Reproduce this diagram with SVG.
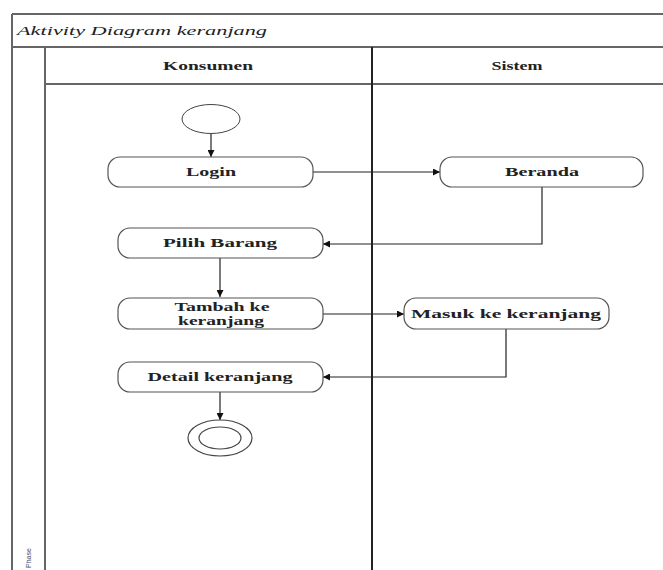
<svg xmlns="http://www.w3.org/2000/svg" width="663" height="570" viewBox="0 0 663 570">
<style>
.frame{stroke:#666;stroke-width:2;fill:none}
.lane{stroke:#222;stroke-width:2;fill:none}
.act{fill:#fff;stroke:#555;stroke-width:1.2}
.lbl{font-family:"Liberation Serif","DejaVu Serif",serif;font-weight:bold;font-size:12.5px;fill:#222;text-anchor:middle}
.hdr{font-family:"Liberation Serif","DejaVu Serif",serif;font-weight:bold;font-size:12.5px;fill:#222;text-anchor:middle}
.edge{stroke:#222;stroke-width:1.2;fill:none}
</style>
<defs>
<marker id="ah" viewBox="0 0 10 10" refX="10" refY="5" markerWidth="8" markerHeight="7" markerUnits="userSpaceOnUse" orient="auto">
<path d="M0,0 L10,5 L0,10 z" fill="#111"/>
</marker>
</defs>
<rect width="663" height="570" fill="#fff"/>
<g id="frame">
<line class="frame" x1="12" y1="14" x2="663" y2="14"/>
<line class="frame" x1="12" y1="14" x2="12" y2="570"/>
<line class="frame" x1="12" y1="47" x2="663" y2="47"/>
<line class="frame" x1="45" y1="47" x2="45" y2="570"/>
<line class="frame" x1="45" y1="84" x2="663" y2="84"/>
<line class="lane" x1="372" y1="47" x2="372" y2="570"/>
<text x="17" y="35" font-family="'Liberation Serif','DejaVu Serif',serif" font-style="italic" font-size="13.5" fill="#222" textLength="250" lengthAdjust="spacingAndGlyphs">Aktivity Diagram keranjang</text>
<text class="hdr" x="208" y="70" textLength="90" lengthAdjust="spacingAndGlyphs">Konsumen</text>
<text class="hdr" x="517" y="70" textLength="51" lengthAdjust="spacingAndGlyphs">Sistem</text>
<text x="31" y="568" transform="rotate(-90 31 568)" font-family="'Liberation Sans',sans-serif" font-size="7" fill="#446">Phase</text>
</g>
<g id="connectors">
<line class="edge" x1="211" y1="134" x2="211" y2="157" marker-end="url(#ah)" stroke-width="1.8"/>
<line class="edge" x1="313" y1="172" x2="440" y2="172" marker-end="url(#ah)"/>
<polyline class="edge" points="542,187 542,244 323,244" marker-end="url(#ah)"/>
<line class="edge" x1="220" y1="258" x2="220" y2="297" marker-end="url(#ah)"/>
<line class="edge" x1="323" y1="314" x2="404" y2="314" marker-end="url(#ah)"/>
<polyline class="edge" points="506,329 506,377 323,377" marker-end="url(#ah)"/>
<line class="edge" x1="220" y1="392" x2="220" y2="420" marker-end="url(#ah)"/>
</g>
<g id="start">
<ellipse cx="211" cy="119" rx="29" ry="14.5" fill="#fff" stroke="#444" stroke-width="1"/>
</g>
<g id="login">
<rect class="act" x="108" y="157" width="205" height="30" rx="12"/>
<text class="lbl" x="211" y="176" textLength="50" lengthAdjust="spacingAndGlyphs">Login</text>
</g>
<g id="beranda">
<rect class="act" x="440" y="157" width="203" height="30" rx="12"/>
<text class="lbl" x="542" y="176" textLength="74" lengthAdjust="spacingAndGlyphs">Beranda</text>
</g>
<g id="pilih">
<rect class="act" x="118" y="228" width="205" height="30" rx="12"/>
<text class="lbl" x="220" y="247" textLength="114" lengthAdjust="spacingAndGlyphs">Pilih Barang</text>
</g>
<g id="tambah">
<rect class="act" x="118" y="298" width="205" height="31" rx="12"/>
<text class="lbl" x="222" y="311" textLength="95" lengthAdjust="spacingAndGlyphs">Tambah ke</text>
<text class="lbl" x="221" y="325" textLength="86" lengthAdjust="spacingAndGlyphs">keranjang</text>
</g>
<g id="masuk">
<rect class="act" x="404" y="298" width="205" height="31" rx="12"/>
<text class="lbl" x="506" y="318" textLength="190" lengthAdjust="spacingAndGlyphs">Masuk ke keranjang</text>
</g>
<g id="detail">
<rect class="act" x="118" y="362" width="205" height="30" rx="12"/>
<text class="lbl" x="220" y="381" textLength="145" lengthAdjust="spacingAndGlyphs">Detail keranjang</text>
</g>
<g id="end">
<ellipse cx="220" cy="438" rx="32" ry="18" fill="#fff" stroke="#444" stroke-width="1.2"/>
<ellipse cx="220" cy="438" rx="21" ry="11" fill="none" stroke="#444" stroke-width="1.2"/>
</g>
</svg>
